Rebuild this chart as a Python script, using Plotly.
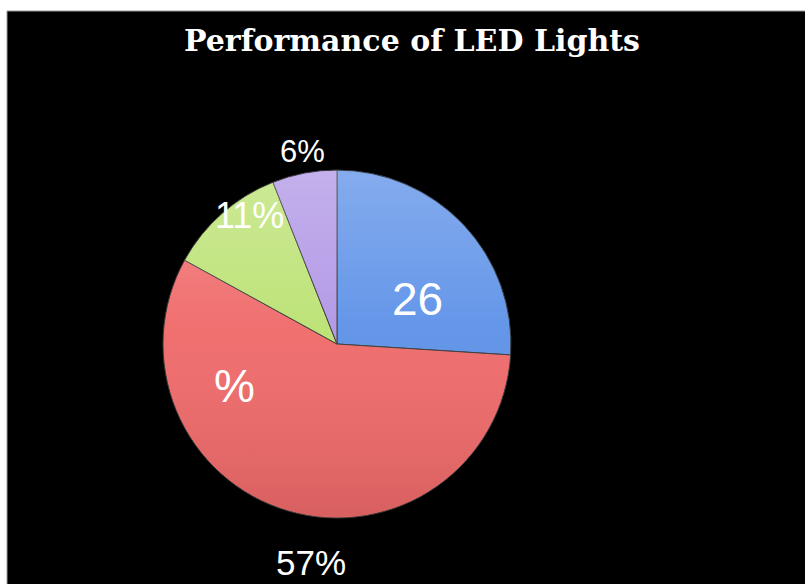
import base64
import plotly.graph_objects as go

# Share of LED light performance categories (percent)
categories = ["Category A", "Category B", "Category C", "Category D"]
shares = [26, 57, 11, 6]
slice_colors = ["#5E92E8", "#F06A6A", "#BCE274", "#B197E6"]

# Data labels as they appear around the pie (text, x, y in pixels)
label_texts = ["26", "%", "57%", "11%", "6%"]
label_x = [417, 234, 311, 250, 302]
label_y = [299, 386, 562, 216, 152]
label_sizes = [46, 46, 35, 36, 31]

W, H = 805, 584
px = lambda v: v / W
py = lambda v: 1 - v / H

# pie box in pixels
pie_left, pie_top, pie_size = 163, 170, 348

fig = go.Figure()
fig.add_trace(go.Pie(
    labels=categories,
    values=shares,
    sort=False,
    direction="clockwise",
    rotation=0,
    textinfo="none",
    hoverinfo="label+percent",
    marker=dict(colors=slice_colors, line=dict(color="#3a3a3a", width=1)),
    domain=dict(x=[px(pie_left), px(pie_left + pie_size)],
                y=[py(pie_top + pie_size), py(pie_top)]),
    showlegend=False,
))

# soft light-to-dark shading laid over the pie
svg = (
    '<svg xmlns="http://www.w3.org/2000/svg" viewBox="0 0 100 100">'
    '<defs><linearGradient id="g" x1="0" y1="0" x2="0" y2="1">'
    '<stop offset="0" stop-color="#ffffff" stop-opacity="0.24"/>'
    '<stop offset="0.45" stop-color="#ffffff" stop-opacity="0.04"/>'
    '<stop offset="1" stop-color="#000000" stop-opacity="0.10"/>'
    '</linearGradient></defs>'
    '<circle cx="50" cy="50" r="49.8" fill="url(#g)"/>'
    '</svg>'
)
src = "data:image/svg+xml;base64," + base64.b64encode(svg.encode()).decode()
fig.add_layout_image(dict(
    source=src, xref="paper", yref="paper",
    x=px(pie_left), y=py(pie_top), sizex=pie_size / W, sizey=pie_size / H,
    xanchor="left", yanchor="top", sizing="stretch", layer="above",
))

annotations = [dict(
    text="<b>Performance of LED Lights</b>", x=px(412), y=py(40),
    xref="paper", yref="paper", showarrow=False,
    font=dict(family="DejaVu Serif", size=30, color="white"),
    xanchor="center", yanchor="middle",
)]
for t, x, y, s in zip(label_texts, label_x, label_y, label_sizes):
    annotations.append(dict(
        text=t, x=px(x), y=py(y), xref="paper", yref="paper", showarrow=False,
        font=dict(family="Liberation Sans", size=s, color="white"),
        xanchor="center", yanchor="middle",
    ))

fig.update_layout(
    width=W, height=H,
    margin=dict(l=0, r=0, t=0, b=0),
    paper_bgcolor="white",
    plot_bgcolor="black",
    shapes=[dict(
        type="rect", xref="paper", yref="paper", layer="below",
        x0=px(7), x1=1.01, y0=-0.01, y1=py(11),
        fillcolor="black", line=dict(color="#9a9a9a", width=1),
    )],
    annotations=annotations,
)

fig.write_html("out.html")
